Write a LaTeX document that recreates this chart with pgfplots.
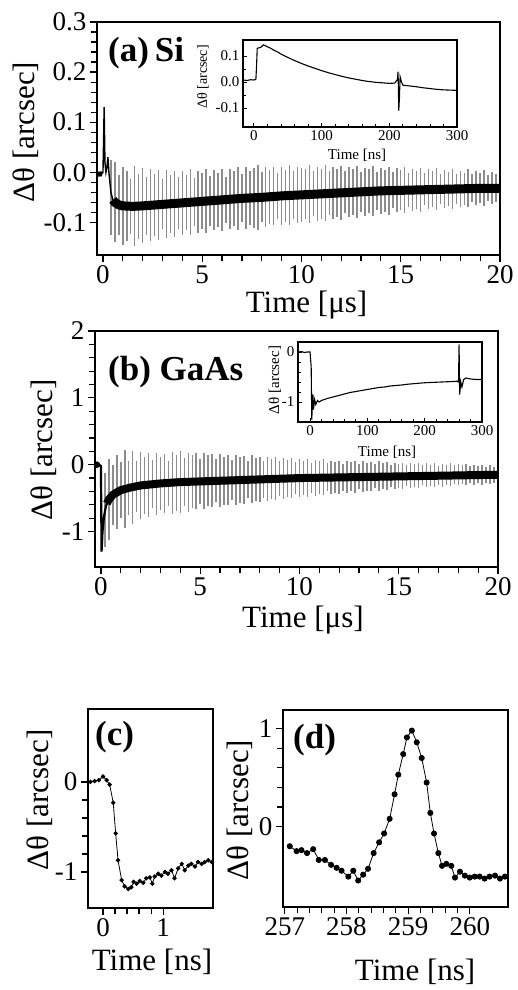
\documentclass[border=0pt]{standalone}
\usepackage{fontspec}
\setmainfont{Liberation Serif}
\usepackage{pgfplots}
\usepackage{pgfplotstable}
\pgfplotsset{compat=1.18}

\newcommand\fs[1]{\fontsize{#1}{#1}\selectfont}

% error bars of (a): time [us], centre, half length
\pgfplotstableread{
t c e
0.4 -0.050 0.075
0.6 -0.060 0.080
0.8 -0.065 0.060
1.0 -0.067 0.078
1.2 -0.068 0.070
1.4 -0.068 0.055
1.6 -0.068 0.080
1.8 -0.068 0.065
2.0 -0.067 0.075
2.2 -0.067 0.058
2.4 -0.066 0.072
2.6 -0.066 0.062
2.8 -0.065 0.070
3.0 -0.064 0.050
3.2 -0.064 0.068
3.4 -0.063 0.058
3.6 -0.063 0.066
3.8 -0.062 0.052
4.0 -0.061 0.064
4.2 -0.061 0.055
4.4 -0.060 0.066
4.6 -0.059 0.048
4.8 -0.059 0.062
5.0 -0.058 0.056
5.2 -0.058 0.064
5.4 -0.057 0.050
5.6 -0.056 0.060
5.8 -0.056 0.054
6.0 -0.055 0.062
6.2 -0.055 0.046
6.4 -0.054 0.060
6.6 -0.053 0.055
6.8 -0.053 0.063
7.0 -0.052 0.048
7.2 -0.052 0.062
7.4 -0.051 0.054
7.6 -0.051 0.060
7.8 -0.050 0.065
8.0 -0.050 0.050
8.2 -0.049 0.060
8.4 -0.049 0.054
8.6 -0.048 0.058
8.8 -0.048 0.046
9.0 -0.047 0.058
9.2 -0.047 0.052
9.4 -0.046 0.060
9.6 -0.046 0.048
9.8 -0.045 0.056
10.0 -0.045 0.054
10.2 -0.044 0.050
10.4 -0.044 0.058
10.6 -0.043 0.045
10.8 -0.043 0.054
11.0 -0.043 0.050
11.2 -0.042 0.056
11.4 -0.042 0.044
11.6 -0.041 0.052
11.8 -0.041 0.048
12.0 -0.041 0.054
12.2 -0.040 0.042
12.4 -0.040 0.050
12.6 -0.040 0.046
12.8 -0.039 0.052
13.0 -0.039 0.040
13.2 -0.039 0.048
13.4 -0.038 0.044
13.6 -0.038 0.050
13.8 -0.038 0.038
14.0 -0.037 0.046
14.2 -0.037 0.042
14.4 -0.037 0.048
14.6 -0.036 0.036
14.8 -0.036 0.044
15.0 -0.036 0.040
15.2 -0.036 0.046
15.4 -0.035 0.034
15.6 -0.035 0.042
15.8 -0.035 0.038
16.0 -0.035 0.044
16.2 -0.034 0.032
16.4 -0.034 0.040
16.6 -0.034 0.036
16.8 -0.034 0.042
17.0 -0.034 0.030
17.2 -0.033 0.038
17.4 -0.033 0.034
17.6 -0.033 0.040
17.8 -0.033 0.030
18.0 -0.033 0.036
18.2 -0.033 0.032
18.4 -0.032 0.038
18.6 -0.032 0.028
18.8 -0.032 0.034
19.0 -0.032 0.030
19.2 -0.032 0.036
19.4 -0.032 0.026
19.6 -0.032 0.032
19.8 -0.032 0.028
}\errA

% error bars of (b)
\pgfplotstableread{
t c e
0.2 -0.68 0.55
0.4 -0.52 0.60
0.6 -0.45 0.45
0.8 -0.41 0.55
1.0 -0.38 0.42
1.2 -0.36 0.58
1.4 -0.35 0.40
1.6 -0.34 0.55
1.8 -0.32 0.38
2.0 -0.31 0.50
2.2 -0.31 0.42
2.4 -0.30 0.48
2.6 -0.29 0.36
2.8 -0.29 0.46
3.0 -0.28 0.40
3.2 -0.28 0.44
3.4 -0.28 0.34
3.6 -0.27 0.46
3.8 -0.27 0.42
4.0 -0.26 0.46
4.2 -0.26 0.36
4.4 -0.26 0.44
4.6 -0.25 0.40
4.8 -0.25 0.42
5.0 -0.25 0.34
5.2 -0.25 0.42
5.4 -0.24 0.38
5.6 -0.24 0.40
5.8 -0.24 0.32
6.0 -0.24 0.40
6.2 -0.24 0.36
6.4 -0.23 0.38
6.6 -0.23 0.30
6.8 -0.23 0.38
7.0 -0.23 0.34
7.2 -0.23 0.36
7.4 -0.22 0.28
7.6 -0.22 0.36
7.8 -0.22 0.32
8.0 -0.22 0.34
8.2 -0.22 0.28
8.4 -0.21 0.33
8.6 -0.21 0.30
8.8 -0.21 0.32
9.0 -0.21 0.26
9.2 -0.21 0.31
9.4 -0.21 0.28
9.6 -0.20 0.30
9.8 -0.20 0.24
10.0 -0.20 0.29
10.2 -0.20 0.26
10.4 -0.20 0.28
10.6 -0.20 0.22
10.8 -0.20 0.27
11.0 -0.19 0.25
11.2 -0.19 0.27
11.4 -0.19 0.21
11.6 -0.19 0.25
11.8 -0.19 0.23
12.0 -0.19 0.25
12.2 -0.19 0.20
12.4 -0.18 0.24
12.6 -0.18 0.22
12.8 -0.18 0.24
13.0 -0.18 0.19
13.2 -0.18 0.23
13.4 -0.18 0.21
13.6 -0.18 0.22
13.8 -0.17 0.18
14.0 -0.17 0.22
14.2 -0.17 0.20
14.4 -0.17 0.21
14.6 -0.17 0.17
14.8 -0.17 0.20
15.0 -0.17 0.18
15.2 -0.17 0.20
15.4 -0.16 0.16
15.6 -0.16 0.19
15.8 -0.16 0.17
16.0 -0.16 0.19
16.2 -0.16 0.15
16.4 -0.16 0.18
16.6 -0.16 0.16
16.8 -0.16 0.18
17.0 -0.16 0.14
17.2 -0.16 0.17
17.4 -0.15 0.15
17.6 -0.15 0.17
17.8 -0.15 0.14
18.0 -0.15 0.16
18.2 -0.15 0.14
18.4 -0.15 0.16
18.6 -0.15 0.13
18.8 -0.15 0.15
19.0 -0.15 0.13
19.2 -0.15 0.15
19.4 -0.15 0.12
19.6 -0.15 0.14
19.8 -0.15 0.12
}\errB

\pgfplotsset{
  panel/.style={
    scale only axis, anchor=south west,
    axis line style={line width=1.6pt},
    tick style={line width=1.2pt, black},
    major tick length=7pt, minor tick length=6pt,
    tick align=outside, tick pos=left,
    /pgf/number format/assume math mode=true,
    tick label style={font=\fs{27}},
    label style={font=\fs{31}},
  },
  inset/.style={
    scale only axis, anchor=south west,
    axis line style={line width=1.1pt},
    tick style={line width=0.8pt, black},
    major tick length=4pt, minor tick length=3pt,
    tick align=inside, tick pos=left,
    /pgf/number format/assume math mode=true,
    tick label style={font=\fs{15}},
    label style={font=\fs{15}},
  },
  bars/.style={draw=none, mark=none, forget plot,
    error bars/.cd, y dir=both, y explicit, error mark=none,
    error bar style={draw=black!45, line width=1.5pt}},
}

\begin{document}
\begin{tikzpicture}

% ---------- (a) Si ----------
\begin{axis}[panel, at={(97pt,735pt)}, width=403pt, height=233pt,
  xmin=-0.3, xmax=20, ymin=-0.165, ymax=0.3,
  xtick={0,5,...,20}, minor x tick num=4,
  ytick={-0.1,0,0.1,0.2,0.3}, minor y tick num=4,
  yticklabel style={/pgf/number format/.cd, fixed, fixed zerofill, precision=1},
  xlabel={Time [μs]}, ylabel={Δθ [arcsec]},
  xlabel style={at={(axis description cs:0.52,-0.214)}, anchor=center},
  ylabel style={at={(axis description cs:-0.176,0.528)}, anchor=center}]
\addplot[bars] table[x=t, y=c, y error=e] {\errA};
\addplot[black, line width=5pt] coordinates {(-0.3,-0.004) (-0.05,-0.003)};
\addplot[black, line width=1.4pt] coordinates {
  (-0.3,-0.004) (-0.2,-0.002) (-0.1,-0.005) (0,0.0) (0.03,0.06) (0.06,0.13)
  (0.1,0.02) (0.15,0.0) (0.2,0.01) (0.25,0.03) (0.3,0.0) (0.4,-0.04) (0.5,-0.055)};
\addplot[black, line width=9pt, line join=round] coordinates {
  (0.5,-0.055) (0.6,-0.06) (0.8,-0.065) (1,-0.067) (1.5,-0.068) (2,-0.067)
  (3,-0.064) (4,-0.061) (5,-0.058) (6,-0.055) (7,-0.052) (8,-0.050) (9,-0.047)
  (10,-0.045) (11,-0.043) (12,-0.041) (13,-0.039) (14,-0.037) (15,-0.036)
  (16,-0.035) (17,-0.034) (18,-0.033) (19,-0.032) (20,-0.032)};
\end{axis}

\begin{axis}[inset, at={(243pt,863pt)}, width=214pt, height=87pt,
  xmin=-16, xmax=300, ymin=-0.173, ymax=0.162,
  xtick={0,100,200,300}, minor x tick num=4,
  ytick={-0.1,0,0.1}, minor y tick num=1,
  yticklabel style={/pgf/number format/.cd, fixed, fixed zerofill, precision=1},
  xlabel={Time [ns]}, ylabel={Δθ [arcsec]},
  xlabel style={at={(axis description cs:0.533,-0.32)}, anchor=center},
  ylabel style={at={(axis description cs:-0.187,0.575)}, anchor=center, font=\fs{14}}]
\addplot[black, line width=1.1pt] coordinates {
  (-16,0.008) (-10,0.006) (-5,0.009) (0,0.008) (3,0.01) (4,0.06) (5,0.13)
  (8,0.132) (11,0.135) (14,0.143) (17,0.14) (20,0.136) (25,0.13) (30,0.122)
  (35,0.116) (40,0.108) (50,0.095) (60,0.083) (70,0.072) (80,0.062) (90,0.053)
  (100,0.044) (110,0.036) (120,0.029) (130,0.022) (140,0.016) (150,0.011)
  (160,0.006) (170,0.002) (180,-0.001) (190,-0.003) (200,-0.005) (208,-0.004)
  (212,0.01) (213,0.04) (214,-0.11) (215,-0.06) (216,0.02) (218,0.0)
  (220,-0.012) (230,-0.015) (240,-0.018) (250,-0.022) (260,-0.025)
  (270,-0.028) (280,-0.030) (290,-0.031) (300,-0.032)};
\end{axis}

% ---------- (b) GaAs ----------
\begin{axis}[panel, at={(95pt,423pt)}, width=403pt, height=236pt,
  xmin=-0.3, xmax=20, ymin=-1.53, ymax=2,
  xtick={0,5,...,20}, minor x tick num=4,
  ytick={-1,0,1,2}, minor y tick num=4,
  xlabel={Time [μs]}, ylabel={Δθ [arcsec]},
  xlabel style={at={(axis description cs:0.516,-0.225)}, anchor=center},
  ylabel style={at={(axis description cs:-0.128,0.496)}, anchor=center}]
\addplot[bars] table[x=t, y=c, y error=e] {\errB};
\addplot[black, line width=2.2pt] coordinates {
  (-0.3,0.0) (-0.1,0.0) (0,-0.02) (0.03,-1.3) (0.08,-1.0) (0.15,-0.78)
  (0.25,-0.62) (0.35,-0.55)};
\addplot[black, mark=*, mark size=3pt, only marks] coordinates {(-0.2,0.0)};
\addplot[black, line width=8pt, line join=round] coordinates {
  (0.3,-0.58) (0.4,-0.52) (0.6,-0.45) (1.0,-0.38) (1.5,-0.34) (2,-0.31)
  (3,-0.28) (4,-0.26) (5,-0.25) (6,-0.24) (7,-0.23) (8,-0.22) (9,-0.21)
  (10,-0.20) (12,-0.19) (14,-0.18) (16,-0.17) (18,-0.16) (20,-0.15)};
\end{axis}

\begin{axis}[inset, at={(298pt,568pt)}, width=184pt, height=80pt,
  xmin=-21, xmax=300, ymin=-1.4, ymax=0.2,
  xtick={0,100,200,300}, minor x tick num=4,
  ytick={-1,0}, minor y tick num=4,
  xlabel={Time [ns]}, ylabel={Δθ [arcsec]},
  xlabel style={at={(axis description cs:0.484,-0.375)}, anchor=center},
  ylabel style={at={(axis description cs:-0.125,0.525)}, anchor=center}]
\addplot[black, line width=1.1pt] coordinates {
  (-21,0.0) (-15,0.01) (-10,-0.01) (-5,0.0) (0,0.0) (2,-0.3) (3,-1.35)
  (4,-1.1) (5,-0.85) (6,-1.15) (8,-0.95) (10,-1.05) (13,-0.97) (16,-1.0)
  (20,-0.97) (25,-0.95) (30,-0.93) (40,-0.90) (50,-0.87) (60,-0.84)
  (70,-0.81) (80,-0.79) (90,-0.77) (100,-0.75) (110,-0.73) (120,-0.71)
  (130,-0.70) (140,-0.68) (150,-0.67) (160,-0.66) (170,-0.645) (180,-0.635)
  (190,-0.625) (200,-0.615) (210,-0.61) (220,-0.605) (230,-0.60)
  (240,-0.595) (250,-0.59) (256,-0.585) (259,-0.60) (260,0.15) (261,-0.85)
  (263,-0.6) (265,-0.7) (268,-0.55) (272,-0.52) (280,-0.54) (290,-0.55)
  (300,-0.55)};
\end{axis}

% ---------- (c) ----------
\begin{axis}[panel, at={(88pt,82pt)}, width=125pt, height=199pt,
  xmin=-0.25, xmax=1.83, ymin=-1.4, ymax=0.81,
  xtick={0,1}, minor x tick num=4,
  ytick={-1,0}, minor y tick num=4,
  xlabel={Time [ns]}, ylabel={Δθ [arcsec]},
  xlabel style={at={(axis description cs:0.512,-0.271)}, anchor=center},
  ylabel style={at={(axis description cs:-0.384,0.543)}, anchor=center}]
\addplot[black, line width=0.8pt, mark=*, mark size=1.8pt] coordinates {
  (-0.21,0.00) (-0.14,0.01) (-0.07,0.02) (0.00,0.06) (0.06,0.02) (0.11,-0.03)
  (0.17,-0.23) (0.21,-0.57) (0.25,-0.87) (0.31,-1.09) (0.36,-1.16)
  (0.42,-1.19) (0.47,-1.17) (0.51,-1.11) (0.56,-1.13) (0.61,-1.10)
  (0.67,-1.12) (0.72,-1.07) (0.78,-1.06) (0.82,-1.13) (0.86,-1.05)
  (0.92,-1.02) (0.97,-1.04) (1.03,-1.00) (1.08,-1.02) (1.14,-0.98)
  (1.19,-1.07) (1.25,-0.96) (1.31,-0.91) (1.36,-0.98) (1.42,-0.93)
  (1.47,-0.91) (1.53,-0.94) (1.58,-0.89) (1.64,-0.91) (1.69,-0.89)
  (1.75,-0.87) (1.81,-0.89)};
\end{axis}

% ---------- (d) ----------
\begin{axis}[panel, at={(283pt,83pt)}, width=225pt, height=197pt,
  xmin=256.97, xmax=260.62, ymin=-0.82, ymax=1.19,
  xtick={257,258,259,260}, minor x tick num=4,
  ytick={0,1}, minor y tick num=4,
  xlabel={Time [ns]}, ylabel={Δθ [arcsec]},
  xlabel style={at={(axis description cs:0.587,-0.33)}, anchor=center},
  ylabel style={at={(axis description cs:-0.191,0.492)}, anchor=center}]
\addplot[black, line width=0.8pt, mark=*, mark size=2.6pt] coordinates {
  (257.08,-0.20) (257.19,-0.25) (257.27,-0.24) (257.36,-0.27) (257.46,-0.23)
  (257.55,-0.34) (257.65,-0.34) (257.75,-0.39) (257.84,-0.42) (257.92,-0.45)
  (258.03,-0.51) (258.11,-0.45) (258.19,-0.55) (258.27,-0.49) (258.35,-0.43)
  (258.44,-0.27) (258.53,-0.16) (258.61,-0.07) (258.70,0.08) (258.78,0.33)
  (258.84,0.53) (258.92,0.74) (258.98,0.91) (259.06,0.98) (259.14,0.86)
  (259.22,0.70) (259.30,0.45) (259.36,0.14) (259.42,-0.07) (259.49,-0.27)
  (259.55,-0.40) (259.62,-0.38) (259.70,-0.40) (259.76,-0.52) (259.84,-0.46)
  (259.92,-0.50) (260.00,-0.52) (260.08,-0.51) (260.16,-0.51) (260.24,-0.53)
  (260.32,-0.51) (260.41,-0.50) (260.49,-0.53) (260.57,-0.51)};
\end{axis}

% panel letters
\node[anchor=west, font=\bfseries\fs{35}, inner sep=0pt] at (108pt,937pt) {(a)\,Si};
\node[anchor=west, font=\bfseries\fs{35}, inner sep=0pt] at (108pt,618pt) {(b) GaAs};
\node[anchor=west, font=\bfseries\fs{35}, inner sep=0pt] at (95pt,253pt) {(c)};
\node[anchor=west, font=\bfseries\fs{35}, inner sep=0pt] at (293pt,250pt) {(d)};

\pgfresetboundingbox
\useasboundingbox (0pt,0pt) rectangle (517pt,990pt);
\end{tikzpicture}
\end{document}
